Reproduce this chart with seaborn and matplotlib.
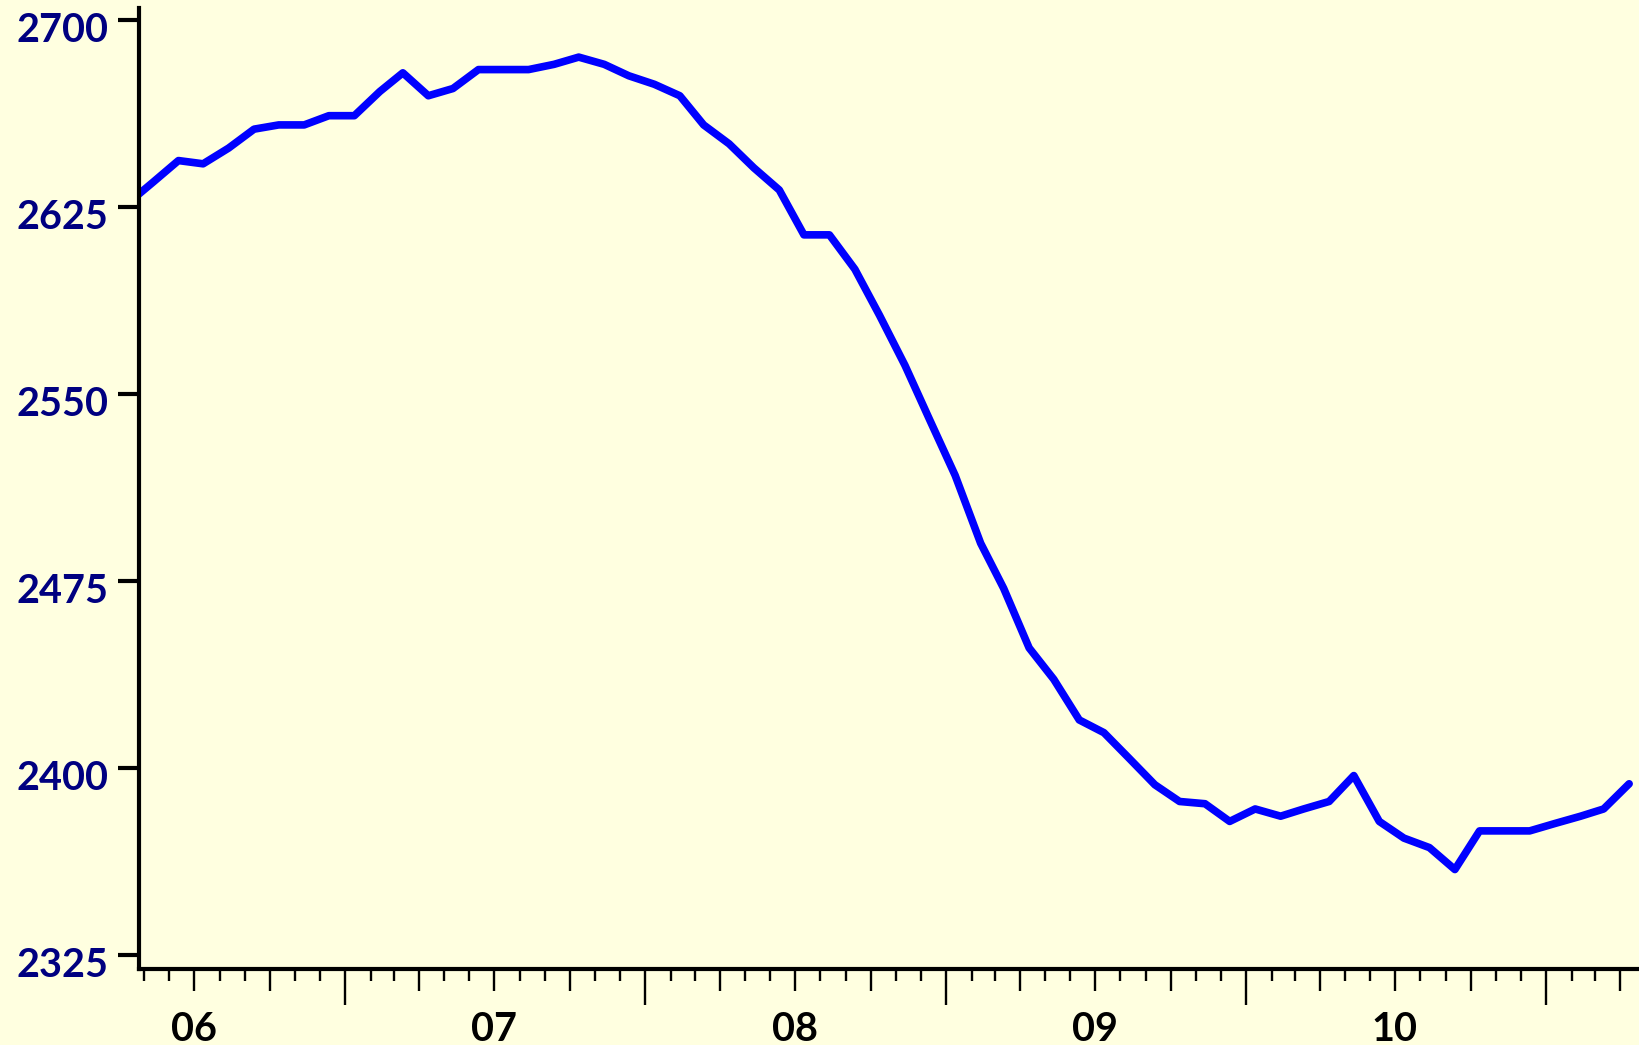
import matplotlib
matplotlib.use("Agg")
import matplotlib.pyplot as plt
import matplotlib.dates as mdates
import matplotlib.transforms as mtransforms
import seaborn as sns
import pandas as pd

# ---- data -------------------------------------------------------------
month_starts = pd.date_range("2006-04-01", "2011-04-01", freq="MS")
dates = month_starts + pd.Timedelta(days=11)
values = [
    2626.8, 2635.1,
    2643.8, 2642.5, 2648.8, 2656.4, 2658.1, 2658.1, 2661.8,
    2661.8, 2671.5, 2679.0, 2669.8, 2672.7, 2680.3, 2680.3, 2680.3, 2682.4, 2685.3, 2682.4, 2677.8,
    2674.4, 2669.8, 2658.1, 2650.5, 2640.9, 2632.0, 2614.0, 2614.0, 2600.2, 2581.7, 2561.6, 2539.8,
    2517.5, 2490.3, 2472.2, 2448.3, 2435.7, 2419.4, 2414.3, 2403.9, 2393.4, 2386.7, 2385.8, 2378.7,
    2383.7, 2380.8, 2383.7, 2386.7, 2397.1, 2378.7, 2372.0, 2368.2, 2359.4, 2374.9, 2374.9, 2374.9,
    2377.9, 2380.8, 2383.7, 2393.8,
]
year_labels = ["06", "07", "08", "09", "10"]
year_label_dates = pd.to_datetime(["2006-07-01", "2007-07-01", "2008-07-01", "2009-07-01", "2010-07-01"])
y_ticks = [2325, 2400, 2475, 2550, 2625, 2700]
tick_dates = pd.date_range("2006-05-01", "2011-04-01", freq="MS")

# ---- style ------------------------------------------------------------
sns.set_style("ticks")
plt.rcParams['font.family'] = ['Lato', 'DejaVu Sans']
plt.rcParams['font.weight'] = 'bold'
bg = '#FFFFE0'

fig = plt.figure(figsize=(16.39, 10.45), dpi=100, facecolor=bg)
ax = fig.add_axes([139 / 1639, 1 - 969 / 1045, 1500 / 1639, 961 / 1045])
ax.set_facecolor(bg)

df = pd.DataFrame({"date": dates, "value": values})
sns.lineplot(data=df, x="date", y="value", ax=ax, color="#0000FF",
             linewidth=5.5, solid_capstyle='round', solid_joinstyle='round')

for s in ['top', 'right']:
    ax.spines[s].set_visible(False)
for s in ['left', 'bottom']:
    ax.spines[s].set_linewidth(3)
    ax.spines[s].set_color('black')

ax.set_xlabel('')
ax.set_ylabel('')
ax.grid(False)

# y axis
ax.set_ylim(2319.5, 2705)
ax.set_yticks(y_ticks)
ax.tick_params(axis='y', length=15, width=3, pad=7, labelsize=28.5,
               labelcolor='#000080', color='black', direction='out')

# x axis
ax.xaxis.remove_overlapping_locs = False
ax.set_xlim(pd.Timestamp("2006-04-25"), pd.Timestamp("2011-04-24"))
ax.set_xticks(mdates.date2num(tick_dates), labels=[""] * len(tick_dates))
ax.set_xticks(mdates.date2num(year_label_dates), labels=year_labels, minor=True)
ax.tick_params(axis='x', which='major', width=1.7, color='black', direction='out')
ax.tick_params(axis='x', which='minor', length=0, pad=30, labelsize=28.5,
               labelcolor='black')

for tick, d in zip(ax.xaxis.get_major_ticks(), tick_dates):
    if d.month == 1:
        L = 26
    elif d.month in (4, 7, 10):
        L = 15.8
    else:
        L = 8.6
    tick.tick1line.set_markersize(L)

offset = mtransforms.ScaledTranslation(0, -0.065, fig.dpi_scale_trans)
for lab in ax.get_yticklabels():
    lab.set_transform(lab.get_transform() + offset)

fig.savefig("out.png", dpi=100, facecolor=bg)
